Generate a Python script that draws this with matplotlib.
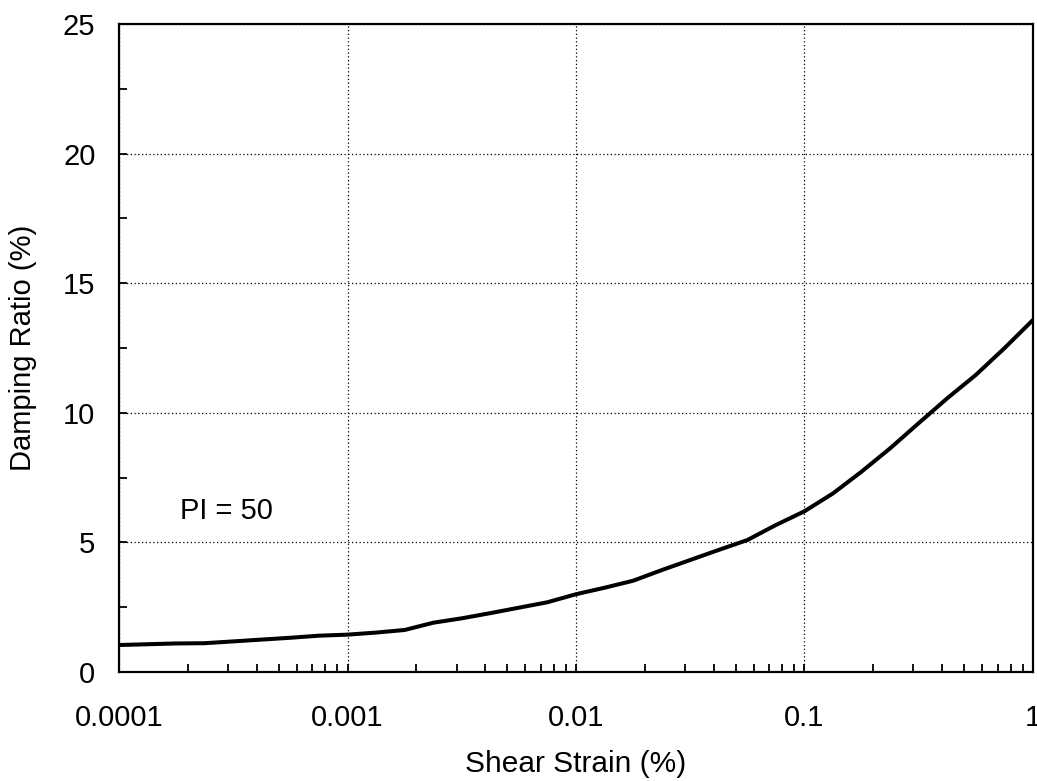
import numpy as np
import matplotlib
matplotlib.use("Agg")
import matplotlib.pyplot as plt
from matplotlib.ticker import FixedLocator, FixedFormatter, LogLocator, MultipleLocator, NullFormatter

plt.rcParams['font.family'] = ['Liberation Sans', 'DejaVu Sans']

# Shear strain (%) - eighth-decade points from 1e-4 to 1
strain = 10 ** (np.arange(33) / 8.0 - 4.0)

# Damping ratio (%)
damping = [1.04, 1.07, 1.10, 1.11, 1.18, 1.25, 1.32, 1.40, 1.44,
           1.52, 1.62, 1.90, 2.07, 2.27, 2.48, 2.69, 3.00,
           3.25, 3.52, 3.93, 4.32, 4.71, 5.09, 5.67, 6.20,
           6.89, 7.73, 8.63, 9.60, 10.56, 11.46, 12.49, 13.58]

x_ticks = [0.0001, 0.001, 0.01, 0.1, 1]
x_tick_labels = ['0.0001', '0.001', '0.01', '0.1', '1']

fig = plt.figure(figsize=(10.37, 7.81), dpi=100)
ax = fig.add_axes([0.1148, 0.1396, 0.8813, 0.8297])

ax.plot(strain, damping, color='black', linewidth=2.9, solid_joinstyle='round')

ax.set_xscale('log')
ax.set_xlim(1e-4, 1)
ax.set_ylim(0, 25)

ax.xaxis.set_major_locator(FixedLocator(x_ticks))
ax.xaxis.set_major_formatter(FixedFormatter(x_tick_labels))
ax.xaxis.set_minor_locator(LogLocator(base=10, subs=np.arange(2, 10), numticks=20))
ax.xaxis.set_minor_formatter(NullFormatter())
ax.yaxis.set_major_locator(MultipleLocator(5))
ax.yaxis.set_minor_locator(MultipleLocator(2.5))

ax.grid(True, which='major', color='black', linestyle=(0, (1, 2)), linewidth=0.9)

ax.tick_params(which='both', direction='in', top=False, right=False,
               width=1.3, labelsize=21)
ax.tick_params(which='major', length=6)
ax.tick_params(which='minor', length=6)
ax.tick_params(axis='x', which='major', pad=23)
ax.tick_params(axis='y', which='major', pad=17)

for s in ax.spines.values():
    s.set_linewidth(1.6)

ax.set_xlabel('Shear Strain (%)', fontsize=21.5, labelpad=13)
ax.set_ylabel('Damping Ratio (%)', fontsize=21, labelpad=19)

ax.text(1.85e-4, 6.2, 'PI = 50', fontsize=21, va='center', ha='left')

fig.savefig('out.png', dpi=100)
